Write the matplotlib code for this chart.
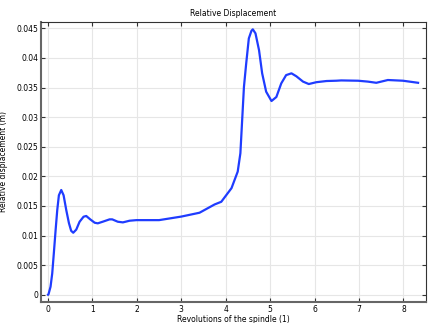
import matplotlib
matplotlib.use("Agg")
import matplotlib.pyplot as plt

# values
revolutions = [0, 0.01, 0.056, 0.094, 0.13, 0.17, 0.207, 0.244, 0.297, 0.35,
               0.41, 0.47, 0.52, 0.567, 0.635, 0.71, 0.80, 0.86, 0.95, 1.05,
               1.12, 1.23, 1.385, 1.445, 1.57, 1.685, 1.835, 1.99, 2.5, 3.0,
               3.41, 3.75, 3.9, 4.13, 4.27, 4.33, 4.37, 4.41, 4.46, 4.52,
               4.58, 4.61, 4.67, 4.75, 4.82, 4.91, 5.03, 5.14, 5.25, 5.36,
               5.48, 5.59, 5.74, 5.87, 6.04, 6.27, 6.49, 6.60, 6.98, 7.2,
               7.39, 7.65, 7.99, 8.33]
displacement = [0, 0.00007, 0.00135, 0.0036, 0.0070, 0.0109, 0.0143, 0.0168,
                0.01769, 0.0168, 0.0143, 0.0121, 0.0108, 0.01047, 0.0110,
                0.01233, 0.01318, 0.0133, 0.01273, 0.01216, 0.01206, 0.01233,
                0.01273, 0.01273, 0.01233, 0.01222, 0.0125, 0.0126, 0.0126,
                0.0132, 0.01385, 0.01525, 0.0157, 0.0180, 0.0208, 0.0239,
                0.0295, 0.0351, 0.0390, 0.0433, 0.0446, 0.04483, 0.04415,
                0.0413, 0.0374, 0.0343, 0.03272, 0.0334, 0.0357, 0.0371,
                0.0374, 0.0369, 0.0360, 0.03559, 0.0359, 0.0361, 0.03615,
                0.0362, 0.03615, 0.0360, 0.0358, 0.03627, 0.03615, 0.0358]

xticks = [0, 1, 2, 3, 4, 5, 6, 7, 8]
yticks = [0, 0.005, 0.01, 0.015, 0.02, 0.025, 0.03, 0.035, 0.04, 0.045]
ytick_labels = ["0", "0.005", "0.01", "0.015", "0.02", "0.025", "0.03",
                "0.035", "0.04", "0.045"]

fig = plt.figure(figsize=(4.29, 3.23), dpi=100)
ax = fig.add_axes([40.5 / 429, 1 - 302 / 323, 386 / 429, 280 / 323])

ax.plot(revolutions, displacement, color="#1f3cff", lw=1.6)

ax.set_xlim(-0.17, 8.52)
ax.set_ylim(-0.00123, 0.04607)
ax.set_xticks(xticks)
ax.set_yticks(yticks)
ax.set_yticklabels(ytick_labels)
ax.grid(True, color="#e6e6e6", lw=0.8)
ax.set_axisbelow(True)

ax.tick_params(direction="in", length=3, width=0.8, labelsize=5.5,
               top=True, right=True, color="#333333")
ax.tick_params(axis="x", pad=2)
ax.tick_params(axis="y", pad=1.5)
for side in ["left", "bottom"]:
    ax.spines[side].set_linewidth(1.5)
    ax.spines[side].set_color("#666666")
for side in ["top", "right"]:
    ax.spines[side].set_linewidth(0.8)
    ax.spines[side].set_color("#333333")

ax.set_title("Relative Displacement", fontsize=5.5, pad=4)
ax.set_xlabel("Revolutions of the spindle (1)", fontsize=5.5)
ax.xaxis.set_label_coords(0.5, -0.046)
ax.set_ylabel("Relative displacement (m)", fontsize=5.5)
ax.yaxis.set_label_coords(-0.083, 0.5)

fig.savefig("out.png", dpi=100)
